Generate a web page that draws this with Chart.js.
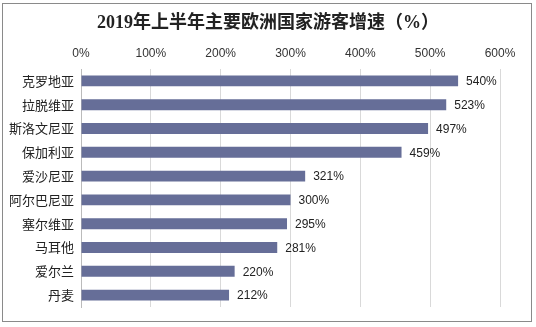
<!DOCTYPE html>
<html>
<head>
<meta charset="utf-8">
<script src="https://cdn.jsdelivr.net/npm/chart.js@4"></script>
<style>
  html, body { margin: 0; padding: 0; background: #fff; }
  #wrap { position: relative; width: 536px; height: 327px; }
  #frame { position: absolute; left: 2px; top: 3px; width: 528px; height: 317px; border: 1px solid #8a8a8a; }
  canvas { position: absolute; left: 0; top: 0; }
</style>
</head>
<body>
<div id="wrap">
  <div id="frame"></div>
  <canvas id="chart" width="536" height="327"></canvas>
</div>
<script>
const titleText = "2019年上半年主要欧洲国家游客增速（%）";
const countries = ["克罗地亚", "拉脱维亚", "斯洛文尼亚", "保加利亚", "爱沙尼亚", "阿尔巴尼亚", "塞尔维亚", "马耳他", "爱尔兰", "丹麦"];
const growth = [540, 523, 497, 459, 321, 300, 295, 281, 220, 212];
const tickValues = [0, 100, 200, 300, 400, 500, 600];

const barColor = "#666e98";

// value text right of each bar
const valueLabels = {
  id: "valueLabels",
  afterDatasetsDraw(c) {
    const ctx = c.ctx;
    const meta = c.getDatasetMeta(0);
    ctx.save();
    ctx.font = "12px 'Liberation Sans', Arial, sans-serif";
    ctx.fillStyle = "#222";
    ctx.textBaseline = "middle";
    meta.data.forEach((bar, i) => {
      ctx.fillText(growth[i] + "%", bar.x + 8, bar.y + 1);
    });
    ctx.restore();
  },
};

const chartTitle = {
  id: "chartTitle",
  afterDraw(c) {
    const ctx = c.ctx;
    ctx.save();
    ctx.font = "bold 18px 'Liberation Serif', 'Noto Sans CJK SC', serif";
    ctx.fillStyle = "#222";
    ctx.textAlign = "center";
    ctx.textBaseline = "middle";
    ctx.fillText(titleText, 268, 23);
    ctx.restore();
  },
};

new Chart(document.getElementById("chart"), {
  type: "bar",
  data: {
    labels: countries,
    datasets: [{
      data: growth,
      backgroundColor: barColor,
      categoryPercentage: 0.46,
      barPercentage: 1,
    }],
  },
  options: {
    indexAxis: "y",
    responsive: false,
    animation: false,
    layout: { padding: { top: 40, right: 36, bottom: 20, left: 0 } },
    plugins: { legend: { display: false }, tooltip: { enabled: false } },
    scales: {
      x: {
        position: "top",
        min: 0,
        max: 600,
        afterBuildTicks: (axis) => { axis.ticks = tickValues.map((v) => ({ value: v })); },
        afterFit: (axis) => { axis.height = 29; },
        ticks: {
          callback: (v) => v + "%",
          color: "#333",
          font: { size: 12, family: "'Liberation Sans', Arial, sans-serif" },
          padding: 8,
        },
        grid: { color: "#d9d9d9", drawTicks: false },
        border: { display: false },
      },
      y: {
        afterFit: (axis) => { axis.width = 81; },
        ticks: {
          color: "#222",
          font: { size: 13, family: "'Noto Sans CJK SC', sans-serif" },
          padding: 7,
        },
        grid: { display: false, drawTicks: false },
        border: { color: "#bbb" },
      },
    },
  },
  plugins: [valueLabels, chartTitle],
});
</script>
</body>
</html>
